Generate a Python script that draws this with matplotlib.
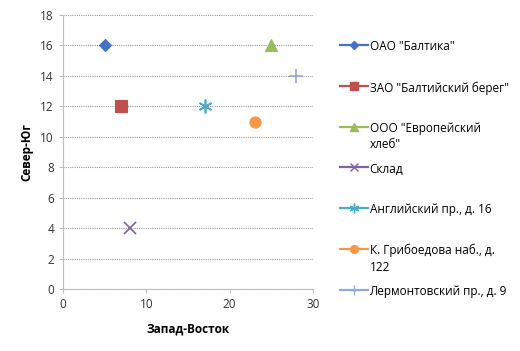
import matplotlib
matplotlib.use("Agg")
import matplotlib.pyplot as plt

names = ['ОАО "Балтика"', 'ЗАО "Балтийский берег"', 'ООО "Европейский\nхлеб"',
         'Склад', 'Английский пр., д. 16', 'К. Грибоедова наб., д.\n122',
         'Лермонтовский пр., д. 9']
x_vals = [5, 7, 25, 8, 17, 23, 28]
y_vals = [16, 12, 16, 4, 12, 11, 14]
colors = ['#4572C4', '#C0504D', '#9BBB59', '#8064A2', '#4BACC6', '#F79646', '#93A9D6']
markers = ['D', 's', '^', 'x', (6, 2, 0), 'o', '+']
sizes = [6, 8, 8, 9, 10, 8, 10]
x_ticks = [0, 10, 20, 30]
y_ticks = list(range(0, 19, 2))

plt.rcParams['font.family'] = ['Open Sans', 'DejaVu Sans']
fig = plt.figure(figsize=(5.2, 3.51), dpi=100)
ax = fig.add_axes([63/520, 1-289/351, (313-63)/520, (289-15)/351])

handles = []
for xv, yv, c, m, s, n in zip(x_vals, y_vals, colors, markers, sizes, names):
    ax.plot([xv], [yv], linestyle='none', marker=m, color=c, markersize=s,
            markeredgewidth=1.2 if m in ('x', '+') or isinstance(m, tuple) else 0.8,
            markeredgecolor=c, zorder=3)
    h, = plt.plot([], [], color=c, lw=1.6, marker=m, markersize=s*0.7,
                  markeredgecolor=c, markeredgewidth=1)
    handles.append(h)

ax.set_xlim(0, 30)
ax.set_ylim(0, 18)
ax.set_xticks(x_ticks)
ax.set_yticks(y_ticks)
ax.yaxis.grid(True, linestyle=(0, (1, 1)), color='#9a9a9a', linewidth=0.8)
ax.set_axisbelow(True)
for s in ['top', 'right']:
    ax.spines[s].set_visible(False)
ax.spines['left'].set_color('#bdbdbd')
ax.spines['bottom'].set_color('#bdbdbd')
ax.tick_params(axis='both', length=3, color='#bdbdbd', labelsize=8.5, labelcolor='#333333')
ax.set_xlabel('Запад-Восток', fontsize=8.5, fontweight='bold', labelpad=8)
ax.set_ylabel('Север-Юг', fontsize=8.5, fontweight='bold', labelpad=5)

# Legend: entries evenly spaced (Excel style), marker aligned with first text line
top_px, step_px = 40.5, 40.7
for i, (h, n) in enumerate(zip(handles, names)):
    leg = fig.legend([h], [n], loc='upper left',
                     bbox_to_anchor=(340/520, 1-(top_px + i*step_px)/351),
                     frameon=False, fontsize=8.5, handlelength=2.4, handletextpad=0.1,
                     handleheight=1.1, borderaxespad=0, borderpad=0)
    for t in leg.get_texts():
        t.set_linespacing(1.35)
    for col in leg._legend_handle_box.get_children():
        for row in col.get_children():
            row.align = 'top'

fig.savefig('out.png', dpi=100)
